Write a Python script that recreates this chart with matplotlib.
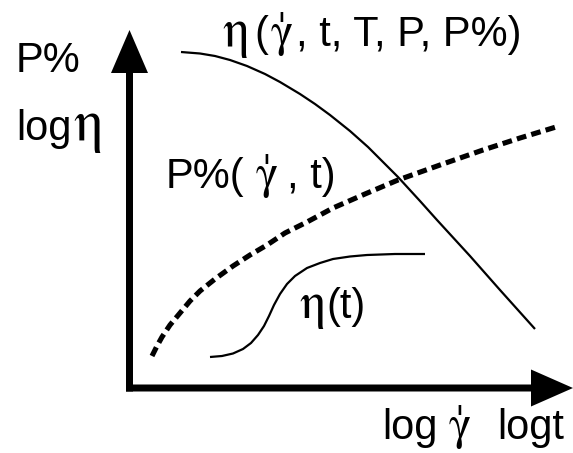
import matplotlib
matplotlib.use("Agg")
import matplotlib.pyplot as plt
from matplotlib.patches import FancyArrow

plt.rcParams['lines.scale_dashes'] = False

# ---- schematic curves (chart units: x to the right, y downward) ----
eta_x = [181, 200, 215, 230, 247, 265, 280, 300, 315, 330, 350, 368, 385, 398, 420, 437, 470, 500, 535]
eta_y = [52, 53.5, 56, 60, 66, 74, 82, 94, 104, 115, 131, 147, 164, 177, 201, 220, 256, 290, 329]

pct_x = [152, 157, 162, 170, 180, 190, 200, 215, 233, 250, 267, 285, 307, 333, 365, 398, 440, 483, 520, 556]
pct_y = [356, 346, 337, 325, 313, 301, 291, 279, 266, 255, 245, 233, 222, 208, 194, 180, 165, 150, 138, 127]

etat_x = [210, 222, 233, 243, 251, 258, 264, 269, 274, 280, 287, 295, 307, 320, 333, 350, 367, 395, 425]
etat_y = [357, 356, 353.5, 349, 343, 335, 326, 316, 305, 294, 284, 276, 268, 263, 259, 256.5, 255, 254, 254]

W, H = 573, 453
fig = plt.figure(figsize=(W / 100, H / 100), dpi=100)
ax = fig.add_axes([0, 0, 1, 1])
ax.set_xlim(0, W)
ax.set_ylim(H, 0)
ax.axis('off')

# axes arrows
ax.add_patch(FancyArrow(129.5, 391.5, 0, 30 - 391.5, width=7, head_width=37, head_length=43,
                        length_includes_head=True, color='black', lw=0))
ax.add_patch(FancyArrow(126, 388, 573 - 126, 0, width=7, head_width=37, head_length=42,
                        length_includes_head=True, color='black', lw=0))

# curves
ax.plot(eta_x, eta_y, color='black', lw=1.6, solid_capstyle='butt', solid_joinstyle='round')
ax.plot(etat_x, etat_y, color='black', lw=1.6, solid_capstyle='butt', solid_joinstyle='round')
ax.plot(pct_x, pct_y, color='black', lw=3.7, dashes=(7, 3.8), dash_capstyle='butt')

SANS = 'Liberation Sans'
GREEK = ['STIXGeneral', 'DejaVu Serif']
FS = 30
GAMMADOT = 'γ\u030d'   # gamma with a vertical stroke above (shear rate)


def t(x, y, s, fam=SANS, fs=FS, **kw):
    ax.text(x, y, s, family=fam, fontsize=fs, ha='left', va='baseline', color='black', **kw)


# y-axis labels
t(16, 72, 'P%')
t(16, 140, 'log')
t(73, 140, 'η', fam=GREEK, fs=42)

# top label
t(222, 46, 'η', fam=GREEK, fs=38)
t(254, 46, '(')
t(271, 46, GAMMADOT, fam=GREEK, fs=34)
t(296, 46, ', t, T, P, P%)')

# middle label
t(166, 188, 'P%(')
t(256, 188, GAMMADOT, fam=GREEK, fs=34)
t(287, 188, ', t)')

# eta(t) label
t(299, 318, 'η', fam=GREEK, fs=37)
t(326, 318, '(t)')

# x-axis labels
t(382, 439, 'log')
t(449, 439, GAMMADOT, fam=GREEK, fs=34)
t(497, 439, 'logt')

fig.savefig('out.png', dpi=100, facecolor='white')
